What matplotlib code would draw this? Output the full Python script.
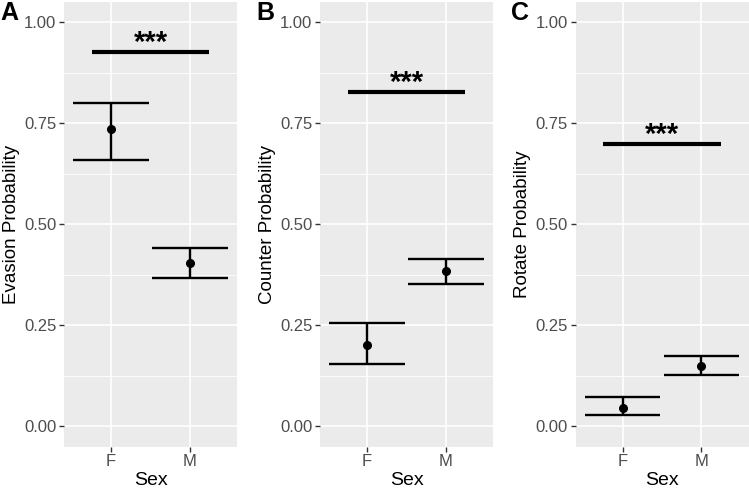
import matplotlib.pyplot as plt
import numpy as np

plt.rcParams['font.family'] = ['Liberation Sans', 'DejaVu Sans']

# Estimated means and CI bounds per panel, sexes F and M
sexes = ["F", "M"]
panel_labels = ["A", "B", "C"]
ylabels = ["Evasion Probability", "Counter Probability", "Rotate Probability"]

evasion_mean = [0.735, 0.404]
evasion_low = [0.658, 0.368]
evasion_high = [0.800, 0.442]

counter_mean = [0.200, 0.384]
counter_low = [0.153, 0.353]
counter_high = [0.256, 0.414]

rotate_mean = [0.046, 0.149]
rotate_low = [0.027, 0.127]
rotate_high = [0.073, 0.173]

sig_heights = [0.926, 0.827, 0.698]
sig_text = "***"

means = [evasion_mean, counter_mean, rotate_mean]
lows = [evasion_low, counter_low, rotate_low]
highs = [evasion_high, counter_high, rotate_high]

W, H = 749, 490
fig = plt.figure(figsize=(W / 100, H / 100), dpi=100)

# panel left edges in pixels
lefts = [64, 320, 575.5]
panel_w = 173
top_px, bottom_px = 2, 446.5

for i in range(3):
    ax = fig.add_axes([lefts[i] / W, (H - bottom_px) / H, panel_w / W,
                       (bottom_px - top_px) / H])
    ax.set_facecolor("#EBEBEB")
    for s in ax.spines.values():
        s.set_visible(False)
    x = np.arange(1, len(sexes) + 1)
    ax.set_xlim(0.4, 2.6)
    ax.set_ylim(-0.05, 1.05)

    # grid
    for yv in [0.125, 0.375, 0.625, 0.875]:
        ax.axhline(yv, color="white", lw=0.6, zorder=0)
    for yv in [0, 0.25, 0.5, 0.75, 1.0]:
        ax.axhline(yv, color="white", lw=1.2, zorder=0)
    for xv in x:
        ax.axvline(xv, color="white", lw=1.2, zorder=0)

    m = np.array(means[i])
    lo = np.array(lows[i])
    hi = np.array(highs[i])
    ax.vlines(x, lo, hi, color="black", lw=1.7, zorder=3)
    ax.hlines(lo, x - 0.48, x + 0.48, color="black", lw=1.7, zorder=3)
    ax.hlines(hi, x - 0.48, x + 0.48, color="black", lw=1.7, zorder=3)
    ax.plot(x, m, "o", color="black", ms=5.5, zorder=4)

    ax.hlines(sig_heights[i], 0.75, 2.25, color="black", lw=3, zorder=3)
    ax.text(1.5, sig_heights[i] - 0.012, sig_text, ha="center", va="bottom",
            fontsize=21, fontweight="bold", color="black")

    ax.set_xticks(x)
    ax.set_xticklabels(sexes)
    ax.set_yticks([0, 0.25, 0.5, 0.75, 1.0])
    ax.set_yticklabels(["0.00", "0.25", "0.50", "0.75", "1.00"])
    ax.tick_params(axis="both", colors="#333333", length=3.5, width=1,
                   labelcolor="#4D4D4D", labelsize=12, pad=2)
    ax.set_xlabel("Sex", fontsize=14, color="black", labelpad=2)
    ax.set_ylabel(ylabels[i], fontsize=13.5, color="black", labelpad=3)

    fig.text((lefts[i] - 64) / W, 1 - 13 / H, panel_labels[i], fontsize=18,
             fontweight="bold", ha="left", va="center")

fig.savefig("out.png", dpi=100)
